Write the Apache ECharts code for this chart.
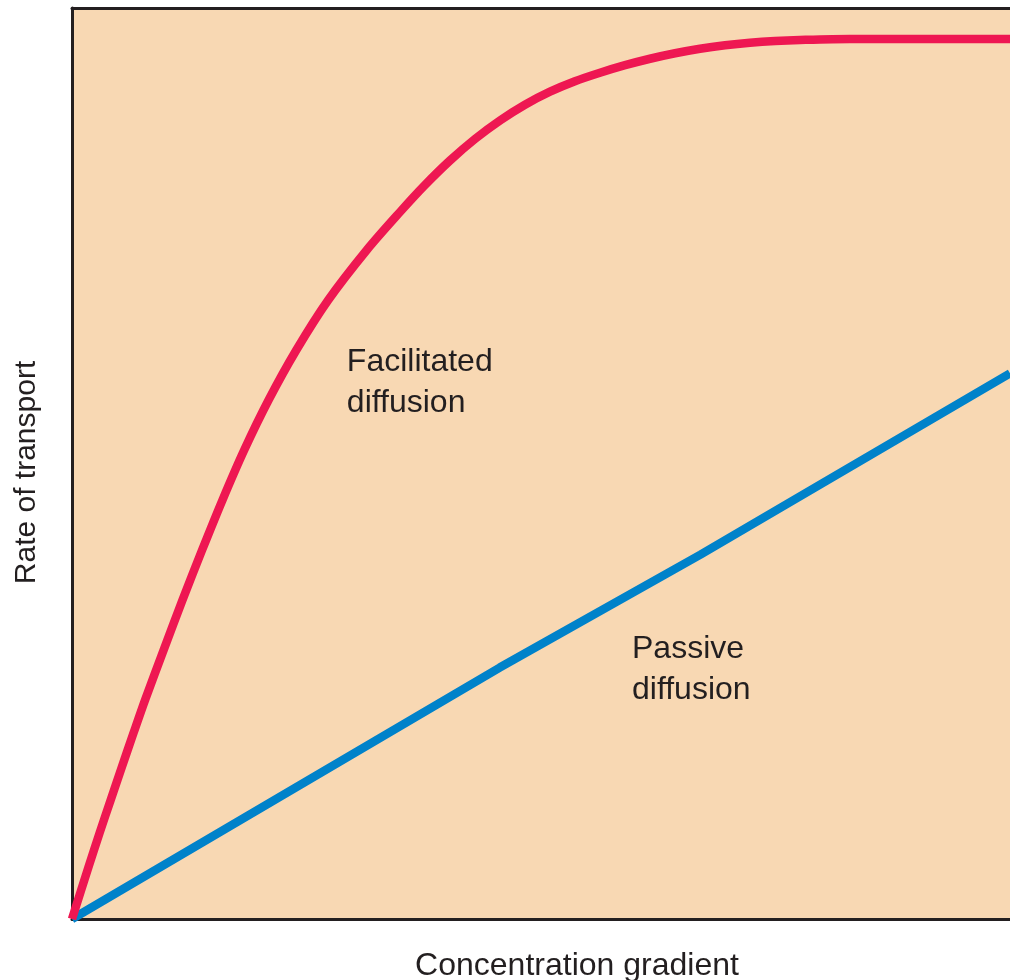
<!DOCTYPE html>
<html>
<head>
<meta charset="utf-8">
<script src="https://cdn.jsdelivr.net/npm/echarts@6/dist/echarts.min.js"></script>
<style>
  html, body { margin: 0; padding: 0; background: #ffffff; }
  #chart { width: 1010px; height: 980px; }
</style>
</head>
<body>
<div id="chart"></div>
<script>
// Concentration gradient (x, 0-100) vs rate of transport (y, 0-100)
const facilitatedData = [
  [0, 0], [1.76, 5.71], [2.94, 9.44], [4.12, 13.06], [5.31, 16.68],
  [6.56, 20.42], [7.79, 24.04], [9.77, 29.53], [11.78, 35.02], [13.87, 40.50],
  [16.04, 45.99], [18.36, 51.48], [20.96, 56.97], [23.92, 62.46], [27.32, 67.95],
  [31.43, 73.44], [34.97, 77.61], [37.63, 80.57], [40.30, 83.26], [42.96, 85.62],
  [45.63, 87.65], [48.29, 89.38], [50.96, 90.81], [53.62, 91.96], [56.29, 92.89],
  [58.96, 93.72], [61.62, 94.43], [64.29, 95.03], [66.95, 95.53], [69.62, 95.91],
  [72.28, 96.19], [74.95, 96.38], [77.61, 96.49], [82.94, 96.60], [100, 96.60]
];
const passiveData = [[0, 0], [45.6, 27.6], [67.0, 40.0], [100, 59.9]];
const xTitle = 'Concentration gradient';
const yTitle = 'Rate of transport';
const facilitatedLabel = 'Facilitated\ndiffusion';
const passiveLabel = 'Passive\ndiffusion';
const facilitatedLabelAt = [29.3, 63.4];
const passiveLabelAt = [59.7, 31.9];

const FONT = "'Liberation Sans', Arial, Helvetica, sans-serif";
const INK = '#231f20';

const chart = echarts.init(document.getElementById('chart'), null, { renderer: 'canvas' });

const axisLine = { show: true, lineStyle: { color: INK, width: 3 } };

chart.setOption({
  animation: false,
  backgroundColor: '#ffffff',
  grid: {
    left: 72, right: 0, top: 8, bottom: 61,
    outerBoundsMode: 'none', containLabel: false,
    show: true, backgroundColor: '#F8D8B3', borderWidth: 0
  },
  xAxis: [
    {
      type: 'value', min: 0, max: 100, position: 'bottom',
      axisLine: axisLine, axisTick: { show: false }, axisLabel: { show: false },
      splitLine: { show: false },
      name: xTitle, nameLocation: 'middle', nameGap: 31,
      nameTextStyle: { fontFamily: FONT, fontSize: 32, color: INK, padding: [0, 0, 0, 72] }
    },
    {
      type: 'value', min: 0, max: 100, position: 'top',
      axisLine: axisLine, axisTick: { show: false }, axisLabel: { show: false },
      splitLine: { show: false }
    }
  ],
  yAxis: {
    type: 'value', min: 0, max: 100,
    axisLine: axisLine, axisTick: { show: false }, axisLabel: { show: false },
    splitLine: { show: false },
    name: yTitle, nameLocation: 'middle', nameGap: 30, nameRotate: 90,
    nameTextStyle: { fontFamily: FONT, fontSize: 30, color: INK, padding: [0, 18, 0, 0] }
  },
  series: [
    {
      type: 'line', data: passiveData, showSymbol: false, symbol: 'none',
      lineStyle: { color: '#0082CA', width: 8.5 }, z: 3, clip: true
    },
    {
      type: 'line', data: facilitatedData, showSymbol: false, symbol: 'none',
      smooth: 0.3,
      lineStyle: { color: '#EE1752', width: 8.5, join: 'round' }, z: 4, clip: true
    },
    {
      type: 'scatter', symbolSize: 0, silent: true,
      itemStyle: { opacity: 1 },
      data: [
        { value: facilitatedLabelAt, label: { formatter: facilitatedLabel } },
        { value: passiveLabelAt, label: { formatter: passiveLabel } }
      ],
      label: {
        show: true, position: 'inside', align: 'left', verticalAlign: 'top',
        fontFamily: FONT, fontSize: 32, lineHeight: 41, color: INK, opacity: 1
      },
      z: 5
    }
  ]
});
</script>
</body>
</html>
